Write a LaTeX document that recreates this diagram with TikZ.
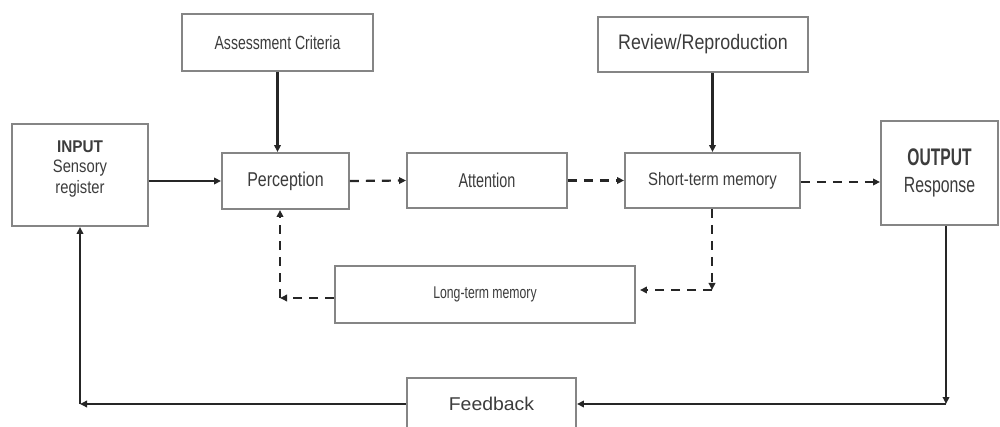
\documentclass[tikz,border=0pt]{standalone}
\usepackage{fontspec}
\setmainfont{Liberation Sans}
\usetikzlibrary{arrows.meta,calc}
\newcommand\tfnt[2]{\fontsize{#1}{#1}\selectfont\addfontfeature{FakeStretch=#2}}
\definecolor{txt}{HTML}{3C3C3C}
\definecolor{brd}{HTML}{858585}
\tikzset{
  box/.style={draw=brd, line width=1.9pt, fill=white, inner sep=0pt, text=txt, align=center},
  solidarrow/.style={line width=2.2pt, draw=black!85, -{Triangle[length=7pt,width=6.5pt]}},
  dasharrow/.style={solidarrow, dash pattern=on 9pt off 7pt},
}
\begin{document}
\begin{tikzpicture}[x=1pt,y=-1pt]
\useasboundingbox (0,0) rectangle (1000,427);
% boxes
\node[box, minimum width=136pt, minimum height=102pt] (in) at (80,175)
  {{\bfseries\tfnt{17}{0.9}INPUT}\\[6pt]{\tfnt{18}{0.82}Sensory}\\[3pt]{\tfnt{18}{0.82}register}\\[4pt]};
\node[box, minimum width=127pt, minimum height=56pt, font=\tfnt{20}{0.8}] (perc) at (285.5,181) {Perception};
\node[box, minimum width=191pt, minimum height=57pt, font=\tfnt{19}{0.74}] (assess) at (277.5,42.5) {Assessment Criteria};
\node[box, minimum width=160pt, minimum height=55pt, font=\tfnt{20}{0.72}] (att) at (487,180.5) {Attention};
\node[box, minimum width=175pt, minimum height=55pt, font=\tfnt{18}{0.83}] (stm) at (712.5,180.5) {Short-term memory};
\node[box, minimum width=210pt, minimum height=55pt, font=\tfnt{21}{0.85}] (rev) at (703,44.5) {Review/Reproduction};
\node[box, minimum width=117pt, minimum height=104pt] (out) at (939.5,173)
  {{\bfseries\tfnt{24}{0.65}OUTPUT}\\[11pt]{\tfnt{22}{0.72}Response}};
\node[box, minimum width=300pt, minimum height=57pt, font=\tfnt{17}{0.72}] (ltm) at (485,294.5) {Long-term memory};
\node[box, minimum width=169pt, minimum height=52pt, font=\tfnt{18.5}{1.05}] (fb) at (491.5,404) {Feedback};
% corner coordinates
\coordinate (c1) at (712,290);
\coordinate (c2) at (280,298);
\coordinate (c3) at (946,404);
\coordinate (c4) at (80,404);
% solid connectors
\draw[solidarrow] (in.east |- perc.west) -- (perc.west);
\draw[solidarrow] (assess.south) -- (assess.south |- perc.north);
\draw[solidarrow] (rev.south -| stm.north) -- (stm.north);
% dashed connectors
\draw[dasharrow] (perc.east) -- (att.west);
\draw[dasharrow] (att.east) -- (stm.west);
\draw[dasharrow] ($(stm.east)+(0,1.5)$) -- ($(stm.east -| out.west)+(0,1.5)$);
\draw[dasharrow] (stm.south -| c1) -- (c1);
\draw[dasharrow, shorten >=4pt] (c1) -- (ltm.east |- c1);
\draw[dasharrow] (ltm.west |- c2) -- (c2);
\draw[dasharrow] (c2) -- (c2 |- perc.south);
% feedback loop
\draw[solidarrow] (out.south -| c3) -- (c3);
\draw[solidarrow] (c3) -- (fb.east |- c3);
\draw[solidarrow] (fb.west |- c4) -- (c4);
\draw[solidarrow] (c4) -- (in.south);
\end{tikzpicture}
\end{document}
